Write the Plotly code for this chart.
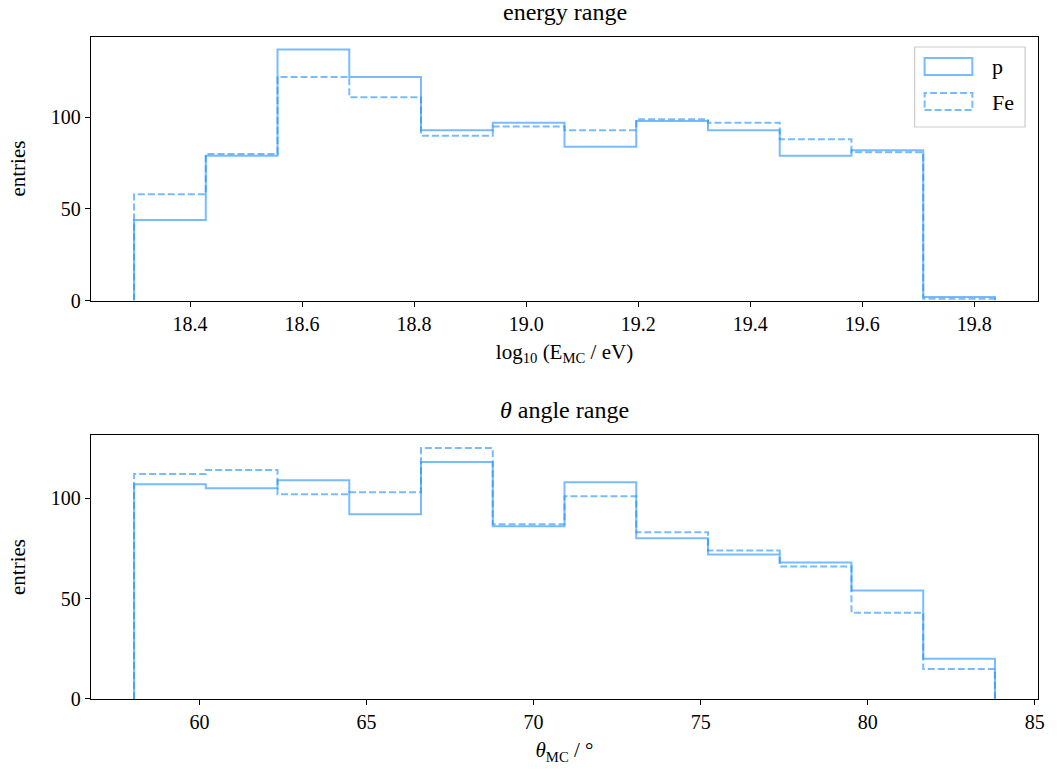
import numpy as np
import plotly.graph_objects as go
from plotly.subplots import make_subplots

# --- data ---
energy_edges = list(np.linspace(18.30, 19.837, 13))
energy_p = [44, 79, 137, 122, 93, 97, 84, 98, 93, 79, 82, 2]
energy_fe = [58, 80, 122, 111, 90, 95, 93, 99, 97, 88, 81, 1]

theta_edges = list(np.linspace(58.04, 83.81, 13))
theta_p = [107, 105, 109, 92, 118, 86, 108, 80, 72, 68, 54, 20]
theta_fe = [112, 114, 102, 103, 125, 87, 101, 83, 74, 66, 43, 15]

series_names = ["p", "Fe"]

LINE = "rgba(30,144,255,0.6)"
DASH = "7px,3px"
FONT = "Liberation Serif"

W, H = 1057, 777
ML, MR, MT, MB = 91, 14, 37, 78


def step_xy(edges, counts):
    x = [edges[0]] + list(edges) + [edges[-1]]
    y = [0] + list(counts) + [counts[-1], 0]
    return x, y


fig = make_subplots(rows=2, cols=1, vertical_spacing=0.2038,
                    subplot_titles=("energy range", "<i>θ</i> angle range"))

for row, edges, p, fe in [(1, energy_edges, energy_p, energy_fe),
                          (2, theta_edges, theta_p, theta_fe)]:
    xs, ys = step_xy(edges, p)
    fig.add_trace(go.Scatter(x=xs, y=ys, mode="lines", line_shape="hv",
                             line=dict(color=LINE, width=2),
                             name=series_names[0], showlegend=False), row=row, col=1)
    xs, ys = step_xy(edges, fe)
    fig.add_trace(go.Scatter(x=xs, y=ys, mode="lines", line_shape="hv",
                             line=dict(color=LINE, width=2, dash=DASH),
                             name=series_names[1], showlegend=False), row=row, col=1)

axis_common = dict(showline=True, linecolor="black", linewidth=1.3, mirror=True,
                   ticks="outside", ticklen=5, tickwidth=1.3, tickcolor="black",
                   showgrid=False, zeroline=False,
                   tickfont=dict(family=FONT, size=20, color="black"))


def span(edges):
    w = edges[-1] - edges[0]
    return [edges[0] - 0.05 * w, edges[-1] + 0.05 * w]


title_font = dict(family=FONT, size=21, color="black")
fig.update_xaxes(**axis_common)
fig.update_yaxes(**axis_common)
fig.update_xaxes(range=span(energy_edges), tickvals=[18.4, 18.6, 18.8, 19.0, 19.2, 19.4, 19.6, 19.8],
                 ticktext=["18.4", "18.6", "18.8", "19.0", "19.2", "19.4", "19.6", "19.8"],
                 title=dict(text="log<sub>10</sub> (E<sub>MC</sub> / eV)", standoff=10,
                            font=title_font), row=1, col=1)
fig.update_yaxes(range=[0, 137 * 1.05], tickvals=[0, 50, 100], row=1, col=1)
fig.update_xaxes(range=span(theta_edges), tickvals=[60, 65, 70, 75, 80, 85],
                 title=dict(text="<i>θ</i><sub>MC</sub> / °", standoff=10,
                            font=title_font), row=2, col=1)
fig.update_yaxes(range=[0, 125 * 1.05], tickvals=[0, 50, 100], row=2, col=1)

fig.update_annotations(font=dict(family=FONT, size=24, color="black"), yshift=10)

# y-axis titles as annotations
ph = H - MT - MB
for yc in [(0.6026 + 1) / 2, 0.3989 / 2]:
    fig.add_annotation(text="entries", xref="paper", yref="paper", x=0, y=yc,
                       xshift=-(ML - 18), textangle=-90, showarrow=False,
                       font=title_font, xanchor="center", yanchor="middle")

# manual legend (rectangle patches like the reference)
pw = W - ML - MR


def px2paper(px, py):
    return (px - ML) / pw, (H - MB - py) / ph


bx0, by0 = px2paper(919, 47)
bx1, by1 = px2paper(1030, 127)
fig.add_shape(type="rect", xref="paper", yref="paper", x0=bx0, y0=by1, x1=bx1, y1=by0,
              line=dict(color="#cccccc", width=1.2), fillcolor="rgba(255,255,255,0.8)",
              layer="above")
for i, (name, dash) in enumerate(zip(series_names, ["solid", DASH])):
    top = 58 + i * 35
    x0, y0 = px2paper(929, top)
    x1, y1 = px2paper(977, top + 17)
    fig.add_shape(type="rect", xref="paper", yref="paper", x0=x0, y0=y1, x1=x1, y1=y0,
                  line=dict(color=LINE, width=2, dash=dash), fillcolor="rgba(0,0,0,0)",
                  layer="above")
    tx, ty = px2paper(995, top + 9)
    fig.add_annotation(text=name, xref="paper", yref="paper", x=tx, y=ty,
                       showarrow=False, xanchor="left", yanchor="middle",
                       font=dict(family=FONT, size=22, color="black"))

fig.update_layout(
    width=W, height=H,
    margin=dict(l=ML, r=MR, t=MT, b=MB),
    paper_bgcolor="white", plot_bgcolor="white",
    font=dict(family=FONT, size=20, color="black"),
    showlegend=False,
)

fig.write_html("out.html")
